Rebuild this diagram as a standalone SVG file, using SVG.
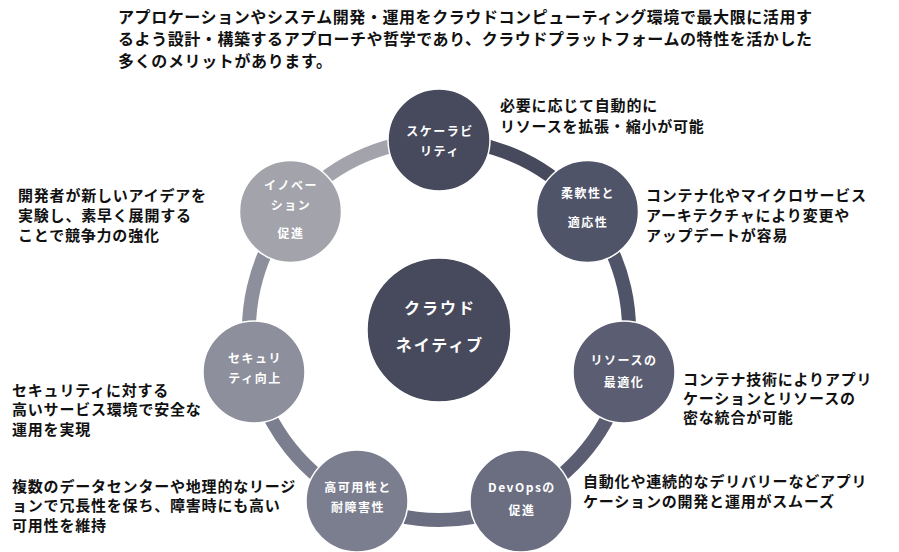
<svg xmlns="http://www.w3.org/2000/svg" width="899" height="552" viewBox="0 0 899 552">
<style>
text{font-family:"Noto Sans CJK JP","Noto Sans",sans-serif;}
.hdr{font-size:16px;font-weight:700;fill:#111;}
.desc{font-size:15px;font-weight:700;fill:#111;letter-spacing:0.8px;}
.lbl{font-size:12px;font-weight:700;fill:#fff;letter-spacing:1.5px;text-anchor:middle;}
.ctr{font-size:16px;font-weight:700;fill:#fff;letter-spacing:2px;text-anchor:middle;}
.node{stroke:#fff;stroke-width:1.5;}
.arc{fill:none;stroke-width:14;}
</style>
<rect width="899" height="552" fill="#fff"/>
<g id="header">
<text class="hdr" x="118" y="23" textLength="694" lengthAdjust="spacing">アプロケーションやシステム開発・運用をクラウドコンピューティング環境で最大限に活用す</text>
<text class="hdr" x="118" y="45" textLength="694" lengthAdjust="spacing">るよう設計・構築するアプローチや哲学であり、クラウドプラットフォームの特性を活かした</text>
<text class="hdr" x="118" y="67" textLength="214" lengthAdjust="spacing">多くのメリットがあります。</text>
</g>
<g id="connectors">
<path class="arc" stroke="#474a5d" d="M439 140 A190 190 0 0 1 587.55 211.54"/>
<path class="arc" stroke="#505468" d="M587.55 211.54 A190 190 0 0 1 624.24 372.28"/>
<path class="arc" stroke="#5b5e72" d="M624.24 372.28 A190 190 0 0 1 521.44 501.18"/>
<path class="arc" stroke="#6b6e81" d="M521.44 501.18 A190 190 0 0 1 356.56 501.18"/>
<path class="arc" stroke="#7b7e8f" d="M356.56 501.18 A190 190 0 0 1 253.76 372.28"/>
<path class="arc" stroke="#8d8f9c" d="M253.76 372.28 A190 190 0 0 1 290.45 211.54"/>
<path class="arc" stroke="#a3a4ab" d="M290.45 211.54 A190 190 0 0 1 439 140"/>
</g>
<g id="center">
<circle class="node" cx="439" cy="330" r="72" fill="#474a5c"/>
<text class="ctr" x="440" y="314">クラウド</text>
<text class="ctr" x="440" y="351">ネイティブ</text>
</g>
<g id="scalability">
<circle class="node" cx="439" cy="140" r="51" fill="#474a5d"/>
<text class="lbl" x="440" y="136">スケーラビ</text>
<text class="lbl" x="440" y="156">リティ</text>
</g>
<g id="flexibility">
<circle class="node" cx="587.5" cy="211.5" r="51" fill="#505468"/>
<text class="lbl" x="588" y="198">柔軟性と</text>
<text class="lbl" x="588" y="227">適応性</text>
</g>
<g id="resource">
<circle class="node" cx="624" cy="372" r="51" fill="#5b5e72"/>
<text class="lbl" x="624" y="365">リソースの</text>
<text class="lbl" x="624" y="387">最適化</text>
</g>
<g id="devops">
<circle class="node" cx="521" cy="501" r="51" fill="#6b6e81"/>
<text class="lbl" x="522" y="492">DevOpsの</text>
<text class="lbl" x="522" y="515">促進</text>
</g>
<g id="availability">
<circle class="node" cx="357" cy="501" r="51" fill="#7b7e8f"/>
<text class="lbl" x="358" y="492">高可用性と</text>
<text class="lbl" x="358" y="512">耐障害性</text>
</g>
<g id="security">
<circle class="node" cx="254" cy="372" r="51" fill="#8d8f9c"/>
<text class="lbl" x="255" y="363">セキュリ</text>
<text class="lbl" x="255" y="383">ティ向上</text>
</g>
<g id="innovation">
<circle class="node" cx="290.5" cy="211.5" r="51" fill="#a3a4ab"/>
<text class="lbl" x="291" y="190">イノベー</text>
<text class="lbl" x="291" y="210">ション</text>
<text class="lbl" x="291" y="238">促進</text>
</g>
<g id="descriptions">
<text class="desc" x="500" y="111">必要に応じて自動的に</text>
<text class="desc" x="500" y="132">リソースを拡張・縮小が可能</text>
<text class="desc" x="646" y="201">コンテナ化やマイクロサービス</text>
<text class="desc" x="646" y="221">アーキテクチャにより変更や</text>
<text class="desc" x="646" y="241">アップデートが容易</text>
<text class="desc" x="683" y="385">コンテナ技術によりアプリ</text>
<text class="desc" x="683" y="404">ケーションとリソースの</text>
<text class="desc" x="683" y="423">密な統合が可能</text>
<text class="desc" x="583" y="487">自動化や連続的なデリバリーなどアプリ</text>
<text class="desc" x="583" y="507">ケーションの開発と運用がスムーズ</text>
<text class="desc" x="18" y="201">開発者が新しいアイデアを</text>
<text class="desc" x="18" y="221">実験し、素早く展開する</text>
<text class="desc" x="18" y="241">ことで競争力の強化</text>
<text class="desc" x="12" y="396">セキュリティに対する</text>
<text class="desc" x="12" y="415">高いサービス環境で安全な</text>
<text class="desc" x="12" y="435">運用を実現</text>
<text class="desc" x="12" y="492">複数のデータセンターや地理的なリージ</text>
<text class="desc" x="12" y="511">ョンで冗長性を保ち、障害時にも高い</text>
<text class="desc" x="12" y="531">可用性を維持</text>
</g>
</svg>
